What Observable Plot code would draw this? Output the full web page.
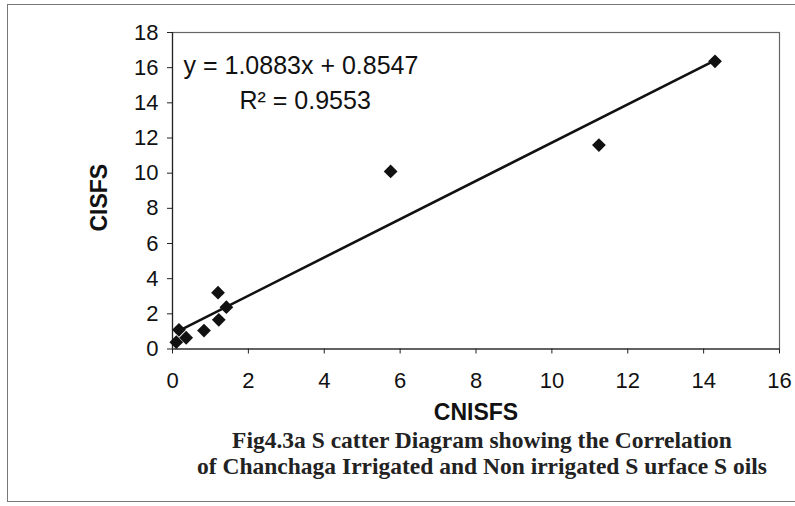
<!DOCTYPE html>
<html>
<head>
<meta charset="utf-8">
<script src="https://cdn.jsdelivr.net/npm/d3@7"></script>
<script src="https://cdn.jsdelivr.net/npm/@observablehq/plot@0.6"></script>
<style>
  html, body { margin: 0; padding: 0; background: #fff; }
  #wrap { position: relative; width: 795px; height: 506px; overflow: hidden; background: #fff; }
  #border { position: absolute; left: 7px; top: 4px; width: 800px; height: 498px; border: 1px solid #777; box-sizing: border-box; }
  #chart { position: absolute; left: 0; top: 0; }
  .cap { position: absolute; left: 0; width: 964px; text-align: center; font-family: "Liberation Serif", "Times New Roman", serif; font-weight: bold; font-size: 23.5px; color: #222; white-space: nowrap; line-height: 1; }
</style>
</head>
<body>
<div id="wrap">
  <div id="border"></div>
  <div id="chart"></div>
  <div class="cap" id="cap1" style="top:429px;"></div>
  <div class="cap" id="cap2" style="top:455px;"></div>
</div>
<script>
// Data
const cnisfs = [0.10, 0.17, 0.36, 0.83, 1.22, 1.20, 1.42, 5.75, 11.24, 14.30];
const cisfs  = [0.39, 1.09, 0.64, 1.05, 1.66, 3.20, 2.38, 10.10, 11.60, 16.36];
const slope = 1.0883;
const intercept = 0.8547;
const rSquared = 0.9553;
const xTicks = [0, 2, 4, 6, 8, 10, 12, 14, 16];
const yTicks = [0, 2, 4, 6, 8, 10, 12, 14, 16, 18];
const xLabel = "CNISFS";
const yLabel = "CISFS";
const caption1 = "Fig4.3a S catter Diagram showing the Correlation";
const caption2 = "of Chanchaga Irrigated and Non irrigated S urface S oils";

const points = cnisfs.map((x, i) => ({x, y: cisfs[i]}));
const xMin = d3.min(cnisfs), xMax = d3.max(cnisfs);
const trend = [xMin, xMax].map(x => ({x, y: slope * x + intercept}));
const eqText = `y = ${slope.toFixed(4)}x + ${intercept.toFixed(4)}`;
const r2Text = `R² = ${rSquared.toFixed(4)}`;

const H = 430;
const chart = Plot.plot({
  width: 795,
  height: H,
  marginLeft: 172,
  marginRight: 16,
  marginTop: 32,
  marginBottom: H - 348.5,
  x: {domain: [0, 16]},
  y: {domain: [0, 18]},
  style: {fontFamily: "'Liberation Sans', Arial, sans-serif", fontSize: "22px", color: "#111", background: "transparent"},
  marks: [
    Plot.frame({stroke: "#666", strokeWidth: 1.2}),
    Plot.axisX({ticks: xTicks, tickSize: 5, tickPadding: 18, label: null, stroke: "#222"}),
    Plot.axisY({ticks: yTicks, tickSize: 5, tickPadding: 9, label: null, stroke: "#222"}),
    Plot.ruleX([0], {stroke: "#222", strokeWidth: 1.2}),
    Plot.ruleY([0], {stroke: "#222", strokeWidth: 1.2}),
    Plot.line(trend, {x: "x", y: "y", stroke: "#111", strokeWidth: 2.6}),
    Plot.dot(points, {x: "x", y: "y", symbol: "diamond2", fill: "#111", stroke: "none", r: 6.2}),
    Plot.text([eqText], {frameAnchor: "top-left", dx: 11, dy: 33, textAnchor: "start", lineAnchor: "middle", fontSize: 25, fill: "#111"}),
    Plot.text([r2Text], {frameAnchor: "top-left", dx: 67, dy: 68, textAnchor: "start", lineAnchor: "middle", fontSize: 25, fill: "#111"}),
    Plot.text([xLabel], {frameAnchor: "bottom", dy: 64, textAnchor: "middle", lineAnchor: "middle", fontWeight: "bold", fontSize: 23, fill: "#111"}),
    Plot.text([yLabel], {frameAnchor: "left", dx: -73, dy: 7, rotate: -90, textAnchor: "middle", lineAnchor: "middle", fontWeight: "bold", fontSize: 23, fill: "#111"})
  ]
});
document.getElementById("chart").appendChild(chart);
document.getElementById("cap1").textContent = caption1;
document.getElementById("cap2").textContent = caption2;
</script>
</body>
</html>
